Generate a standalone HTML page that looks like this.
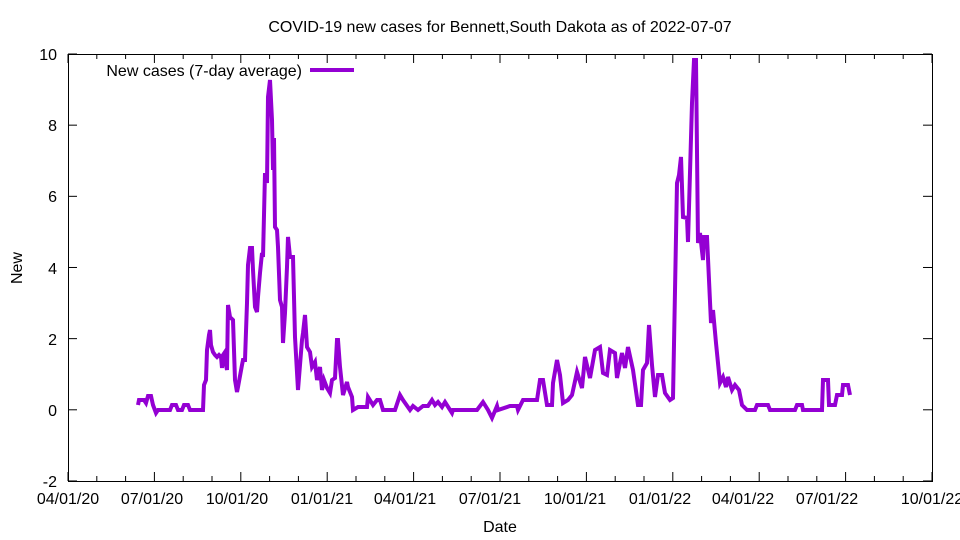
<!DOCTYPE html>
<html><head><meta charset="utf-8"><style>
body{margin:0;background:#fff}
svg{display:block;font-family:"Liberation Sans",sans-serif}
</style></head><body>
<svg width="960" height="540" viewBox="0 0 960 540" xmlns="http://www.w3.org/2000/svg">
<rect width="960" height="540" fill="#fff"/>
<text x="500" y="32" font-size="16" text-anchor="middle">COVID-19 new cases for Bennett,South Dakota as of 2022-07-07</text>
<g id="ticks" stroke="#000" stroke-width="1"></g>
<rect x="68.5" y="54.5" width="864" height="427" fill="none" stroke="#000"/>
<g font-size="16" text-anchor="end">
<text x="57" y="487">-2</text>
<text x="57" y="416">0</text>
<text x="57" y="345">2</text>
<text x="57" y="274">4</text>
<text x="57" y="202">6</text>
<text x="57" y="131">8</text>
<text x="57" y="60">10</text>
</g>
<g font-size="16" text-anchor="middle">
<text x="68" y="504">04/01/20</text>
<text x="152" y="504">07/01/20</text>
<text x="237" y="504">10/01/20</text>
<text x="322" y="504">01/01/21</text>
<text x="405" y="504">04/01/21</text>
<text x="490" y="504">07/01/21</text>
<text x="575" y="504">10/01/21</text>
<text x="660" y="504">01/01/22</text>
<text x="743" y="504">04/01/22</text>
<text x="827" y="504">07/01/22</text>
<text x="932" y="504">10/01/22</text>
<text x="500" y="532">Date</text>
</g>
<text x="22" y="268" font-size="16" text-anchor="middle" transform="rotate(-90 22 268)">New</text>
<text x="302" y="76" font-size="16" text-anchor="end">New cases (7-day average)</text>
<line x1="310" y1="70" x2="354" y2="70" stroke="#9400d3" stroke-width="4"/>
<polyline fill="none" stroke="#9400d3" stroke-width="4" stroke-linejoin="miter" points="
138,405 139,400 144,400 146,403 148,396 151,396 153,405 156,413 158,410 170,410 172,405 176,405 178,410 182,410 184,405 188,405 190,410 203,410 204,385 206,380 207,350 209,335 210,330 211,345 213,352 215,355 217,357 219,355 221,357 222,368 223,355 225,352 226,365 227,370 228,305 230,317 233,320 235,380 237,392 238,387 242,365 243,360 245,360 247,303 248,265 250,248 252,248 253,270 255,307 257,312 258,297 260,273 262,253 263,257 265,173 267,183 268,97 270,80 272,120 273,170 274,138 275,227 277,230 278,247 280,300 282,307 283,343 285,313 287,267 288,237 290,257 293,257 295,337 298,390 302,340 303,333 305,315 307,347 310,352 312,367 315,362 317,380 320,367 322,390 324,380 327,388 330,393 332,380 335,378 337,340 338,340 340,367 343,395 347,382 348,387 352,397 353,410 358,407 367,407 368,397 373,405 377,400 380,400 383,410 395,410 400,395 403,400 410,410 413,406 418,410 423,406 428,406 432,400 435,405 438,402 442,407 445,402 452,413 453,410 477,410 483,402 488,410 492,418 497,406 498,410 510,406 517,406 518,410 523,400 537,400 540,380 543,380 547,405 552,405 553,383 557,360 560,375 563,403 568,400 572,395 577,372 582,388 585,357 590,378 595,350 600,347 603,373 607,375 610,350 615,353 617,378 622,353 625,368 628,347 633,370 638,405 641,405 643,370 647,363 649,325 652,365 655,397 658,375 662,375 665,393 670,400 673,398 677,183 679,175 681,157 683,217 687,218 688,242 692,103 694,60 696,60 698,243 700,233 703,260 704,237 707,237 711,323 713,310 716,343 718,363 720,383 723,377 726,387 728,377 732,390 735,385 739,390 742,405 747,410 755,410 757,405 768,405 770,410 795,410 797,405 802,405 803,410 822,410 823,380 828,380 829,405 835,405 837,395 842,395 843,385 848,385 850,395"/>
</svg>
<script>
var g=document.getElementById('ticks'),s='';
for(var i=0;i<=30;i++){var x=68+i*28.8;var L=(i%3==0)?9:5;
s+='<line x1="'+x+'" y1="481" x2="'+x+'" y2="'+(481-L)+'"/><line x1="'+x+'" y1="54" x2="'+x+'" y2="'+(54+L)+'"/>';}
for(var v=-2;v<=10;v+=2){var y=409.8-v*35.58;
s+='<line x1="68" y1="'+y+'" x2="77" y2="'+y+'"/><line x1="932" y1="'+y+'" x2="923" y2="'+y+'"/>';}
g.innerHTML=s;
</script>
</body></html>
